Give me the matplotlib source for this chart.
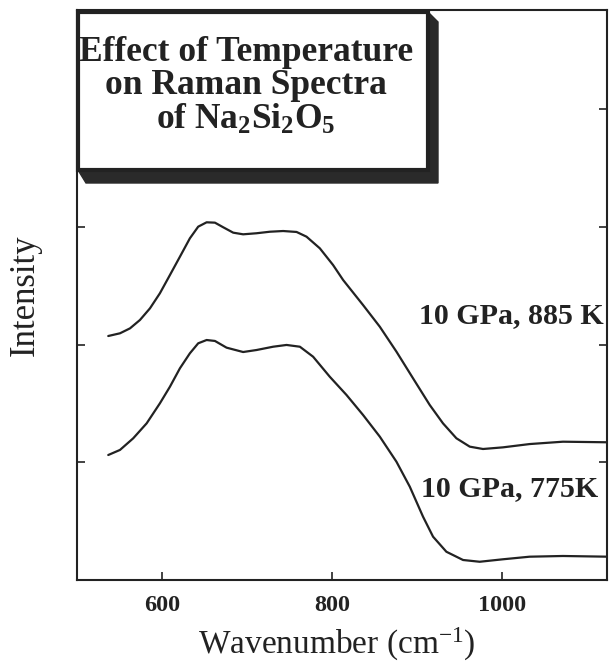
import matplotlib
matplotlib.use("Agg")
import matplotlib.pyplot as plt
from matplotlib.patches import Polygon

plt.rcParams['font.family'] = ['Liberation Serif', 'DejaVu Serif']
plt.rcParams['mathtext.default'] = 'regular'

# ---- data ----
wn_885 = [536.8, 550.6, 562.4, 574.1, 585.9, 597.6, 609.4, 621.2, 632.9, 642.7,
          652.6, 662.4, 672.1, 683.9, 695.6, 711.4, 727.1, 742.7, 758.5, 770.2,
          785.9, 801.5, 813.3, 836.8, 856.5, 876.1, 895.6, 915.3, 930.9, 946.7,
          962.4, 978.0, 1001.5, 1032.9, 1072.1, 1125.1]
int_885 = [2.073, 2.096, 2.138, 2.209, 2.308, 2.436, 2.591, 2.747, 2.903, 3.002,
           3.039, 3.036, 2.997, 2.951, 2.937, 2.946, 2.959, 2.965, 2.957, 2.917,
           2.818, 2.676, 2.549, 2.336, 2.152, 1.940, 1.714, 1.487, 1.331, 1.204,
           1.133, 1.113, 1.127, 1.155, 1.175, 1.170]

wn_775 = [536.8, 550.6, 566.2, 582.0, 597.6, 609.4, 621.2, 632.9, 642.7, 652.6,
          662.4, 676.1, 695.6, 711.4, 730.9, 746.7, 762.4, 778.0, 797.6, 817.3,
          836.8, 856.5, 876.1, 891.8, 907.4, 919.2, 934.9, 954.5, 974.1, 1001.5,
          1032.9, 1072.1, 1125.1]
int_775 = [1.062, 1.105, 1.204, 1.331, 1.501, 1.642, 1.799, 1.926, 2.011, 2.039,
           2.031, 1.974, 1.937, 1.954, 1.982, 1.997, 1.982, 1.897, 1.727, 1.572,
           1.402, 1.218, 1.005, 0.793, 0.538, 0.368, 0.240, 0.170, 0.155, 0.176,
           0.198, 0.204, 0.198]

xticks = [600, 800, 1000]
yticks = [1, 2, 3, 4]
label_885 = "10 GPa, 885 K"
label_775 = "10 GPa, 775K"
title_text = "Effect of Temperature\non Raman Spectra\nof Na$_2$Si$_2$O$_5$"

W, H = 609, 663
fig = plt.figure(figsize=(W / 100, H / 100), dpi=100)
ax = fig.add_axes([77 / W, 1 - 580 / H, 530 / W, 570 / H])

lc = '#222222'
ax.plot(wn_885, int_885, color=lc, lw=1.6, solid_capstyle='round', solid_joinstyle='round')
ax.plot(wn_775, int_775, color=lc, lw=1.6, solid_capstyle='round', solid_joinstyle='round')

ax.set_xlim(500, 1124)
ax.set_ylim(0, 570 / 117.7)
ax.set_xticks(xticks)
ax.set_xticklabels([str(t) for t in xticks], fontweight='bold', fontsize=17.5, color=lc)
ax.set_yticks(yticks)
ax.set_yticklabels([])
ax.tick_params(axis='x', direction='in', length=6, width=1.2, pad=11, colors=lc)
ax.tick_params(axis='y', direction='in', length=6, width=1.2, right=True, left=True, colors=lc)
for s in ax.spines.values():
    s.set_linewidth(1.5)
    s.set_color(lc)

ax.set_xlabel("Wavenumber (cm$^{-1}$)", fontsize=24, color=lc)
ax.xaxis.set_label_coords(0.49, -0.080)
ax.set_ylabel("Intensity", fontsize=25, color=lc)
ax.yaxis.set_label_coords(-0.066, 0.5)


def px(x, y):
    return (x / W, 1 - y / H)


fig.text(*px(604, 323), label_885, ha='right', va='baseline', fontsize=21.5,
         fontweight='bold', color=lc)
fig.text(*px(598, 496), label_775, ha='right', va='baseline', fontsize=21.5,
         fontweight='bold', color=lc)

# title box with 3D shadow
shadow = Polygon([px(78, 170), px(428, 170), px(428, 12), px(438, 22), px(438, 183), px(86, 183)],
                 closed=True, transform=fig.transFigure, facecolor='#2a2a2a',
                 edgecolor='#2a2a2a', lw=1, zorder=5)
fig.patches.append(shadow)
box = Polygon([px(78, 12), px(428, 12), px(428, 170), px(78, 170)], closed=True,
              transform=fig.transFigure, facecolor='white', edgecolor=lc,
              lw=3, zorder=6)
fig.patches.append(box)
fig.text(*px(246, 129), title_text, ha='center', va='baseline', fontsize=25.5,
         fontweight='bold', color=lc, linespacing=1.02, zorder=7)

fig.savefig("out.png", dpi=100)
